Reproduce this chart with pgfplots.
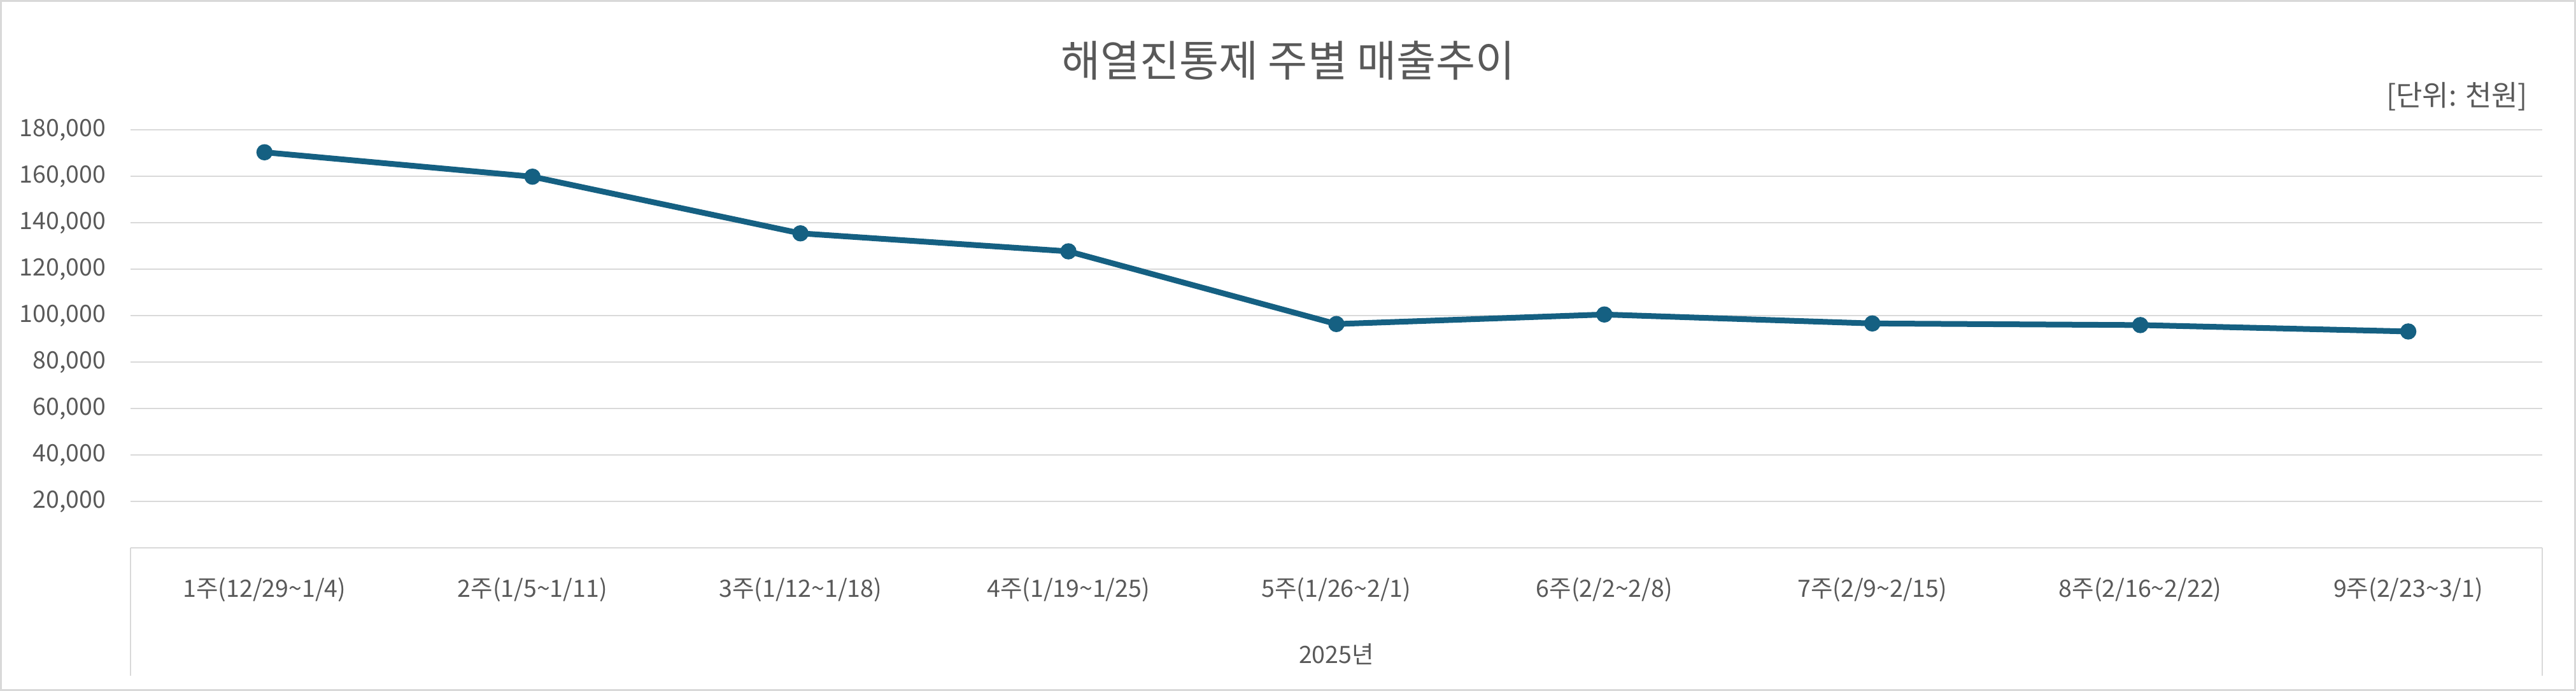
\documentclass[border=0pt]{standalone}
\usepackage{fontspec}
\setmainfont{Noto Sans CJK KR}
\usepackage{pgfplots}
\pgfplotsset{compat=1.18}
\definecolor{lineblue}{HTML}{156082}
\definecolor{gridgray}{HTML}{D9D9D9}
\definecolor{txtgray}{HTML}{595959}
\begin{document}
\begin{tikzpicture}
\path[use as bounding box] (-41bp,-44.94bp) rectangle (768.2bp,172.26bp);
\draw[gridgray, line width=0.6bp] (-40.7bp,-44.64bp) rectangle (767.9bp,171.96bp);
\begin{axis}[
  at={(0,0)}, anchor=south west,
  scale only axis, width=757.6bp, height=131.4bp,
  xmin=-0.5, xmax=8.5, ymin=0, ymax=180000,
  clip=false,
  axis line style={draw=none},
  xtick={0,...,8},
  xticklabels={1주(12/29\textasciitilde1/4),2주(1/5\textasciitilde1/11),3주(1/12\textasciitilde1/18),4주(1/19\textasciitilde1/25),5주(1/26\textasciitilde2/1),6주(2/2\textasciitilde2/8),7주(2/9\textasciitilde2/15),8주(2/16\textasciitilde2/22),9주(2/23\textasciitilde3/1)},
  ytick={20000,40000,...,180000},
  scaled y ticks=false,
  major tick length=0pt,
  ymajorgrids, major grid style={gridgray, line width=0.4bp},
  /pgf/number format/.cd, fixed, precision=0, 1000 sep={,}, assume math mode=true,
  /pgfplots/.cd,
  ticklabel style={font=\fontsize{7.5bp}{9bp}\selectfont, text=txtgray},
  yticklabel style={anchor=east, inner sep=0pt, xshift=-7.6bp},
  xticklabel style={anchor=center, inner sep=0pt, yshift=-13.14bp},
]
\draw[gridgray, line width=0.4bp] (axis cs:-0.5,0) -- (axis cs:8.5,0);
\draw[gridgray, line width=0.4bp] (axis cs:-0.5,0) -- ([yshift=-40.1bp]axis cs:-0.5,0);
\draw[gridgray, line width=0.4bp] (axis cs:8.5,0) -- ([yshift=-40.1bp]axis cs:8.5,0);
\addplot[lineblue, line width=1.8bp, mark=*, mark size=2.3bp, mark options={fill=lineblue, line width=0.5bp}]
  coordinates {(0,170400) (1,159900) (2,135500) (3,127750) (4,96450) (5,100550) (6,96700) (7,96000) (8,93250)};
\node[font=\fontsize{7.5bp}{9bp}\selectfont, text=txtgray, anchor=center] at ([yshift=-33.3bp]axis cs:4,0) {2025년};
\end{axis}
\node[font=\fontsize{13.5bp}{16bp}\selectfont, text=txtgray, anchor=center] at (363.6bp,153.26bp) {해열진통제 주별 매출추이};
\node[font=\fontsize{9bp}{11bp}\selectfont, text=txtgray, anchor=east, inner sep=0pt] at (753.2bp,141.86bp) {[단위: 천원]};
\end{tikzpicture}
\end{document}
